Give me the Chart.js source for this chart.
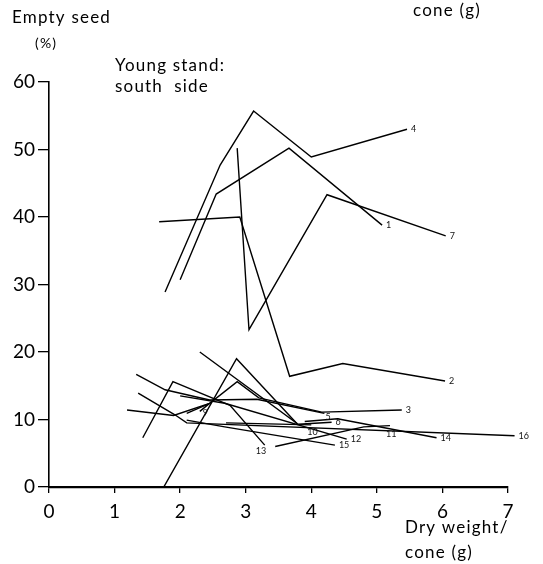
<!DOCTYPE html>
<html>
<head>
<meta charset="utf-8">
<script src="https://cdn.jsdelivr.net/npm/chart.js@4/dist/chart.umd.min.js"></script>
<style>
  html, body { margin: 0; padding: 0; background: #fff; }
  canvas { display: block; }
</style>
</head>
<body>
<canvas id="seedChart" width="543" height="564"></canvas>
<script>
// cone dry weight (g) and empty seed (%) for each tree, young stand, south side
const tree1x = [2.0, 2.55, 3.66, 5.08];
const tree1y = [30.7, 43.4, 50.2, 38.8];
const tree2x = [1.68, 2.91, 3.67, 4.48, 6.04];
const tree2y = [39.3, 40.0, 16.4, 18.3, 15.7];
const tree3x = [2.1, 2.45, 2.87, 3.2, 4.16, 5.38];
const tree3y = [10.9, 12.4, 15.6, 13.2, 11.1, 11.4];
const tree4x = [1.77, 2.61, 3.12, 4.0, 5.46];
const tree4y = [28.9, 47.7, 55.7, 48.9, 53.0];
const tree5x = [1.33, 1.77, 2.45, 3.17, 4.2];
const tree5y = [16.7, 14.4, 12.9, 13.0, 10.9];
const tree6x = [2.3, 3.8, 4.31];
const tree6y = [20.0, 9.3, 9.6];
const tree7x = [2.87, 3.05, 4.24, 6.05];
const tree7y = [50.2, 23.3, 43.3, 37.2];
const tree8x = [0, 1.75, 2.86, 3.78];
const tree8y = [0, 0, 19.0, 9.4];
const tree9x = [1.19, 1.9, 2.45, 2.3];
const tree9y = [11.4, 10.6, 12.4, 11.2];
const tree10x = [2.7, 4.0];
const tree10y = [9.5, 9.2];
const tree11x = [3.45, 4.8, 5.2];
const tree11y = [6.0, 8.9, 9.1];
const tree12x = [2.0, 2.68, 4.54];
const tree12y = [13.5, 12.4, 7.1];
const tree13x = [1.43, 1.89, 2.76, 3.29];
const tree13y = [7.3, 15.6, 12.1, 6.2];
const tree14x = [3.9, 4.4, 5.91];
const tree14y = [9.7, 10.1, 7.3];
const tree15x = [2.1, 2.68, 4.36];
const tree15y = [9.9, 8.9, 6.2];
const tree16x = [1.36, 1.92, 2.1, 7.1];
const tree16y = [13.9, 10.7, 9.5, 7.6];

const trees = [
  ['1', tree1x, tree1y], ['2', tree2x, tree2y], ['3', tree3x, tree3y],
  ['4', tree4x, tree4y], ['5', tree5x, tree5y], ['6', tree6x, tree6y],
  ['7', tree7x, tree7y], ['', tree8x, tree8y], ['9', tree9x, tree9y],
  ['10', tree10x, tree10y], ['11', tree11x, tree11y], ['12', tree12x, tree12y],
  ['13', tree13x, tree13y], ['14', tree14x, tree14y], ['15', tree15x, tree15y],
  ['16', tree16x, tree16y]
];

const xTicks = [0, 1, 2, 3, 4, 5, 6, 7];
const yTicks = [0, 10, 20, 30, 40, 50, 60];

// where each tree number sits relative to the end of its line
const labelShift = {
  '13': [-9, 6], '10': [-4, 7], '11': [-4, 9], '9': [3, 2], '5': [1, 4]
};

const datasets = trees.map(([name, xs, ys]) => ({
  label: name,
  data: xs.map((x, i) => ({ x: x, y: ys[i] })),
  showLine: true,
  borderColor: '#000',
  borderWidth: 1.4,
  pointRadius: 0,
  tension: 0,
  clip: false
}));

const FONT = 'Lato, "DejaVu Sans", sans-serif';

const endLabels = {
  id: 'endLabels',
  afterDatasetsDraw(chart) {
    const ctx = chart.ctx;
    ctx.save();
    ctx.fillStyle = '#111';
    ctx.font = '9px ' + FONT;
    ctx.textBaseline = 'middle';
    chart.data.datasets.forEach((ds, i) => {
      if (!ds.label) return;
      const pts = chart.getDatasetMeta(i).data;
      const last = pts[pts.length - 1];
      const [dx, dy] = labelShift[ds.label] || [4, 0];
      ctx.fillText(ds.label, last.x + dx, last.y + dy);
    });
    ctx.restore();
  }
};

const captions = {
  id: 'captions',
  afterDraw(chart) {
    const ctx = chart.ctx;
    ctx.save();
    ctx.fillStyle = '#000';
    ctx.textBaseline = 'middle';
    ctx.letterSpacing = '1.2px';
    ctx.font = '17px ' + FONT;
    ctx.fillText('Empty seed', 12, 18);
    ctx.fillText('Young stand:', 115, 66);
    ctx.fillText('south  side', 115, 87);
    ctx.fillText('cone (g)', 413, 11);
    ctx.fillText('Dry weight/', 405, 528);
    ctx.fillText('cone (g)', 405, 553);
    ctx.font = '14px ' + FONT;
    ctx.fillText('(%)', 35, 43);
    ctx.restore();
  }
};

new Chart(document.getElementById('seedChart'), {
  type: 'scatter',
  data: { datasets: datasets },
  options: {
    responsive: false,
    animation: false,
    devicePixelRatio: 1,
    layout: { padding: { top: 82, right: 35, bottom: 0, left: 0 } },
    plugins: { legend: { display: false }, tooltip: { enabled: false } },
    scales: {
      x: {
        type: 'linear',
        min: 0,
        max: 7,
        afterBuildTicks: (s) => { s.ticks = xTicks.map(v => ({ value: v })); },
        afterFit: (s) => { s.height = 77; },
        ticks: { color: '#000', font: { family: FONT, size: 19 }, padding: 7 },
        grid: { drawOnChartArea: false, tickLength: 6, color: '#000', lineWidth: 1.3 },
        border: { color: '#000', width: 2.2 }
      },
      y: {
        type: 'linear',
        min: 0,
        max: 60,
        afterBuildTicks: (s) => { s.ticks = yTicks.map(v => ({ value: v })); },
        afterFit: (s) => { s.width = 49; },
        ticks: { color: '#000', font: { family: FONT, size: 19 }, padding: 3 },
        grid: { drawOnChartArea: false, tickLength: 11, color: '#000', lineWidth: 1.3 },
        border: { color: '#000', width: 1.6 }
      }
    }
  },
  plugins: [endLabels, captions]
});
</script>
</body>
</html>
